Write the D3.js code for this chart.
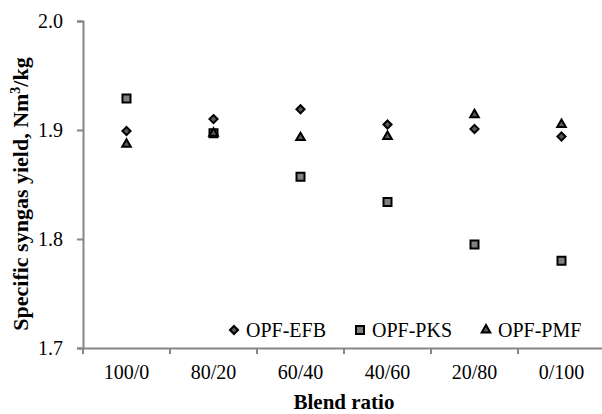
<!DOCTYPE html>
<html>
<head>
<meta charset="utf-8">
<script src="https://cdn.jsdelivr.net/npm/d3@7"></script>
<style>
  body { margin: 0; background: #fff; }
  text { font-family: "Liberation Serif", "Times New Roman", serif; fill: #000; }
</style>
</head>
<body>
<div id="chart"></div>
<script>
// dữ liệu
const ratios = ["100/0", "80/20", "60/40", "40/60", "20/80", "0/100"];
const efb = [1.899, 1.910, 1.919, 1.905, 1.901, 1.894];
const pks = [1.929, 1.897, 1.857, 1.834, 1.795, 1.780];
const pmf = [1.887, 1.897, 1.893, 1.894, 1.914, 1.905];
const yTicks = [1.7, 1.8, 1.9, 2.0];
const seriesNames = ["OPF-EFB", "OPF-PKS", "OPF-PMF"];

const W = 602, H = 414;
const serif = "'Liberation Serif', 'Times New Roman', serif";
const svg = d3.select("#chart").append("svg")
    .attr("width", W).attr("height", H);

const x = d3.scaleBand().domain(ratios).range([83, 605]).padding(0);
const y = d3.scaleLinear().domain([1.7, 2.0]).range([348, 21]);

const axisColor = "#868686";

// trục Y
const gy = svg.append("g")
    .attr("transform", "translate(83,0)")
    .call(d3.axisLeft(y).tickValues(yTicks).tickFormat(d3.format(".1f")).tickSize(6).tickPadding(14));
gy.select(".domain").attr("stroke", axisColor).attr("stroke-width", 2);
gy.selectAll(".tick line").attr("stroke", axisColor).attr("stroke-width", 2);
gy.selectAll("text").style("font-size", "20px").style("font-family", serif);

// trục X
const gx = svg.append("g")
    .attr("transform", "translate(0,348)")
    .call(d3.axisBottom(x).tickSize(0).tickPadding(17).tickSizeOuter(0));
gx.select(".domain").attr("stroke", axisColor).attr("stroke-width", 2);
gx.selectAll("text").style("font-size", "20px").style("font-family", serif);
gx.selectAll(".bound")
    .data(ratios)
    .enter().append("line")
    .attr("x1", d => x(d)).attr("x2", d => x(d))
    .attr("y1", 0).attr("y2", 6)
    .attr("stroke", axisColor).attr("stroke-width", 2);

// ký hiệu
const diamond = d3.symbol().type(d3.symbolDiamond2).size(42);
const square = d3.symbol().type(d3.symbolSquare).size(64);
const triangle = d3.symbol().type(d3.symbolTriangle).size(32);
const styles = [
    { sym: diamond, fill: "#595959" },
    { sym: square, fill: "#808080" },
    { sym: triangle, fill: "#595959" }
];
const allSeries = [efb, pks, pmf];

allSeries.forEach((vals, i) => {
    svg.append("g").selectAll("path")
        .data(vals)
        .enter().append("path")
        .attr("d", styles[i].sym)
        .attr("transform", (d, j) => `translate(${x(ratios[j]) + x.bandwidth() / 2},${y(d)})`)
        .attr("fill", styles[i].fill)
        .attr("stroke", "#000")
        .attr("stroke-width", 2);
});

// chú thích
const legendX = [234, 360, 486];
const lg = svg.append("g");
seriesNames.forEach((name, i) => {
    lg.append("path")
        .attr("d", styles[i].sym)
        .attr("transform", `translate(${legendX[i]},330)`)
        .attr("fill", styles[i].fill)
        .attr("stroke", "#000")
        .attr("stroke-width", 2);
    lg.append("text")
        .attr("x", legendX[i] + 12)
        .attr("y", 330)
        .attr("dy", "0.35em")
        .style("font-size", "20px")
        .text(name);
});

// tiêu đề trục
svg.append("text")
    .attr("x", 344).attr("y", 409)
    .attr("text-anchor", "middle")
    .style("font-size", "21px").style("font-weight", "bold")
    .text("Blend ratio");

const yt = svg.append("text")
    .attr("transform", "translate(28,194) rotate(-90)")
    .attr("text-anchor", "middle")
    .style("font-size", "22px").style("font-weight", "bold");
yt.append("tspan").text("Specific syngas yield, Nm");
yt.append("tspan").attr("dy", -8).style("font-size", "14px").text("3");
yt.append("tspan").attr("dy", 8).text("/kg");
</script>
</body>
</html>
